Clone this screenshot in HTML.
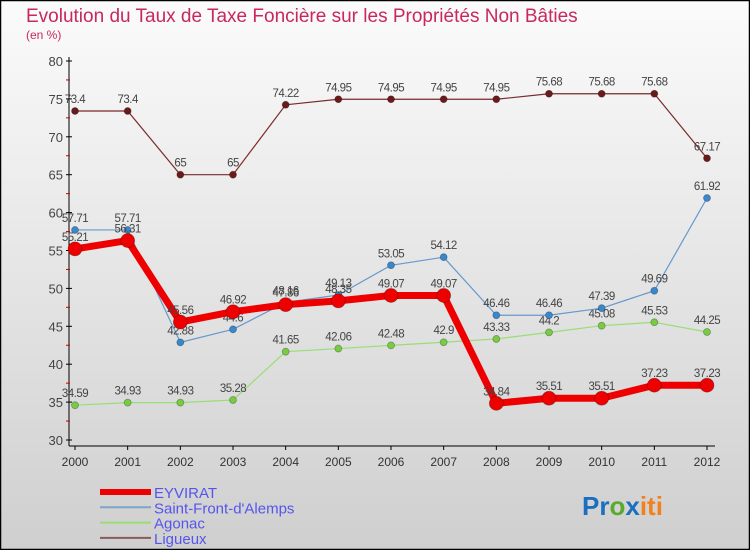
<!DOCTYPE html>
<html><head><meta charset="utf-8"><style>
html,body{margin:0;padding:0;}
body{width:750px;height:550px;overflow:hidden;font-family:"Liberation Sans",sans-serif;}
</style></head><body>
<svg id="chart" width="750" height="550" xmlns="http://www.w3.org/2000/svg">
<defs><linearGradient id="bg" x1="0" y1="0" x2="0" y2="1"><stop offset="0" stop-color="#fbfbfb"/><stop offset="1" stop-color="#cfcfcf"/></linearGradient></defs>
<rect x="0.5" y="0.5" width="749" height="549" fill="url(#bg)" stroke="#000" stroke-width="1.5"/>
<text x="26" y="22" font-size="19" fill="#c8285a">Evolution du Taux de Taxe Foncière sur les Propriétés Non Bâties</text>
<text x="26" y="39" font-size="12" fill="#c8285a">(en %)</text>
<g id="axes"></g>
<g id="series"></g>
<g id="legend"></g>
<text x="582" y="515" font-size="26" font-weight="bold"><tspan fill="#1a6fc0">Pr</tspan><tspan fill="#5aaa30">o</tspan><tspan fill="#1a6fc0">x</tspan><tspan fill="#f08020">iti</tspan></text>
</svg>
<script>
const years=["2000","2001","2002","2003","2004","2005","2006","2007","2008","2009","2010","2011","2012"];
const yTicks=[30,35,40,45,50,55,60,65,70,75,80];
const ligueux=[73.4,73.4,65,65,74.22,74.95,74.95,74.95,74.95,75.68,75.68,75.68,67.17];
const saintFront=[57.71,57.71,42.88,44.6,48.16,49.13,53.05,54.12,46.46,46.46,47.39,49.69,61.92];
const agonac=[34.59,34.93,34.93,35.28,41.65,42.06,42.48,42.9,43.33,44.2,45.08,45.53,44.25];
const eyvirat=[55.21,56.31,45.56,46.92,47.86,48.35,49.07,49.07,34.84,35.51,35.51,37.23,37.23];
const NS="http://www.w3.org/2000/svg";
const x0=75,x1=707,yTop=61,yBot=440,vMin=30,vMax=80;
function xS(i){return x0+i*(x1-x0)/(years.length-1);}
function yS(v){return yBot-(v-vMin)*(yBot-yTop)/(vMax-vMin);}
function mk(t,a,p){const e=document.createElementNS(NS,t);for(const k in a)e.setAttribute(k,a[k]);p.appendChild(e);return e;}
const ax=document.getElementById('axes');
mk('line',{x1:x0-6,y1:yTop-4,x2:x0-6,y2:yBot+6,stroke:'#000'},ax);
mk('line',{x1:x0-6,y1:yBot+6,x2:x1+8,y2:yBot+6,stroke:'#000'},ax);
yTicks.forEach(v=>{
  const y=yS(v);
  const l=mk('line',{x1:x0-9,y1:y,x2:x0-3,y2:y,stroke:'#000'},ax);
  
  
  const t=mk('text',{x:x0-12,y:y+5,'text-anchor':'end','font-size':13,fill:'#444'},ax);
  t.textContent=v;
  
  
  if(v<vMax){const m=mk('line',{x1:x0-9,y1:yS(v+2.5),x2:x0-5,y2:yS(v+2.5),stroke:'#c00'},ax);
  
  }
});
years.forEach((yr,i)=>{
  const t=mk('text',{x:xS(i),y:yBot+26,'text-anchor':'middle','font-size':12,fill:'#333'},ax);
  t.textContent=yr;
  
  
  const l=mk('line',{x1:xS(i),y1:yBot+6,x2:xS(i),y2:yBot+10,stroke:'#000'},ax);
  
  
});
const sg=document.getElementById('series');
function draw(name,data,col,w,r,fill){
  const g=mk('g',{},sg);
  
  
  const p=mk('polyline',{points:data.map((v,i)=>xS(i)+','+yS(v)).join(' '),fill:'none',stroke:col,'stroke-width':w,'stroke-linejoin':'round'},g);
  
  
  data.forEach((v,i)=>{
    const c=mk('circle',{cx:xS(i),cy:yS(v),r:r,fill:fill,stroke:'rgba(0,0,0,0.3)','stroke-width':0.8},g);
    
    
    const t=mk('text',{x:xS(i),y:yS(v)-8,'text-anchor':'middle','font-size':11.5,fill:'#444','letter-spacing':'-0.5'},g);
    t.textContent=String(v);
    
    
  });
}
draw('ligueux',ligueux,'#7a2a2a',1.2,3.5,'#6b1a1a');
draw('agonac',agonac,'#99dd77',1.2,3.5,'#77cc44');
draw('saint-front',saintFront,'#6699cc',1.2,3.5,'#3a88cc');
draw('eyvirat',eyvirat,'#ee0000',7,7,'#ee0000');
const lg=document.getElementById('legend');
const items=[['EYVIRAT','#ee0000',6],['Saint-Front-d\'Alemps','#7aa6cc',2],['Agonac','#99dd77',2],['Ligueux','#8a5a5a',2]];
items.forEach((it,i)=>{
  const y=492+i*15.3;
  const l=mk('line',{x1:100,y1:y,x2:151,y2:y,stroke:it[1],'stroke-width':it[2]},lg);
  
  
  const t=mk('text',{x:154,y:y+6,'font-size':15,fill:'#5555ee'},lg);
  t.textContent=it[0];
  
  
});
</script>
</body></html>
